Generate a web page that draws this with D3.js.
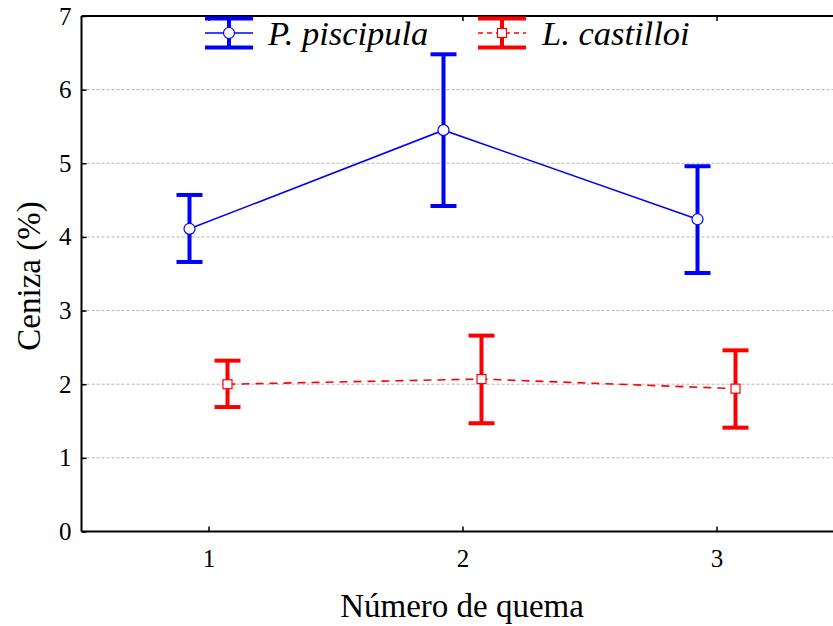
<!DOCTYPE html>
<html>
<head>
<meta charset="utf-8">
<script src="https://cdn.jsdelivr.net/npm/d3@7"></script>
<style>
  html, body { margin: 0; padding: 0; background: #fff; }
  svg { display: block; }
</style>
</head>
<body>
<svg id="chart" width="833" height="626"></svg>
<script>
// Burn number (Número de quema)
const burns = [1, 2, 3];
const yTicks = [0, 1, 2, 3, 4, 5, 6, 7];

// Ash content (%) per species: mean with lower / upper error limits
const piscipulaMean  = [4.11, 5.45, 4.24];
const piscipulaLower = [3.66, 4.42, 3.51];
const piscipulaUpper = [4.57, 6.48, 4.96];

const castilloiMean  = [2.00, 2.07, 1.94];
const castilloiLower = [1.69, 1.47, 1.41];
const castilloiUpper = [2.32, 2.66, 2.46];

const series = [
  { name: "P. piscipula", color: "#0000ff", dash: null, marker: "circle", offset: -19,
    mean: piscipulaMean, lower: piscipulaLower, upper: piscipulaUpper },
  { name: "L. castilloi", color: "#ff0000", dash: "8,6", marker: "square", offset: 19,
    mean: castilloiMean, lower: castilloiLower, upper: castilloiUpper }
];

const serif = "'Liberation Serif'";
const svg = d3.select("#chart").style("font-family", serif);
const plotLeft = 81.5, plotTop = 16, plotBottom = 531.5;

const x = d3.scaleLinear().domain([0.5, 3.5]).range([plotLeft, plotLeft + 762]);
const y = d3.scaleLinear().domain([0, 7]).range([plotBottom, plotTop]);

// horizontal grid
svg.append("g")
  .selectAll("line")
  .data(yTicks.filter(d => d > 0 && d < 7))
  .join("line")
  .attr("x1", plotLeft).attr("x2", 833)
  .attr("y1", d => y(d)).attr("y2", d => y(d))
  .attr("stroke", "#b4b4b4").attr("stroke-width", 1)
  .attr("stroke-dasharray", "3,2");

// axes (ticks point into the plot)
const yAxis = svg.append("g")
  .attr("transform", `translate(${plotLeft},0)`)
  .call(d3.axisLeft(y).tickValues(yTicks).tickSize(-5).tickPadding(10).tickFormat(d3.format("d")));
const xAxis = svg.append("g")
  .attr("transform", `translate(0,${plotBottom})`)
  .call(d3.axisBottom(x).tickValues(burns).tickSize(-5).tickPadding(18).tickFormat(d3.format("d")));
const xTop = svg.append("g")
  .attr("transform", `translate(0,${plotTop})`)
  .call(d3.axisTop(x).tickValues(burns).tickSize(-5).tickFormat(""));

[yAxis, xAxis, xTop].forEach(g => {
  g.attr("font-family", null).attr("font-size", null);
  g.select(".domain").attr("stroke", "#000").attr("stroke-width", 2);
  g.selectAll(".tick line").attr("stroke", "#000").attr("stroke-width", 1.5);
  g.selectAll(".tick text").attr("fill", "#000").attr("font-size", 25);
});
// plain frame lines without outer tick stubs
yAxis.select(".domain").attr("d", `M0,${plotTop}V${plotBottom}`);
xAxis.select(".domain").attr("d", `M${plotLeft},0H833`);
xTop.select(".domain").attr("d", `M${plotLeft},0H833`);

// axis titles
svg.append("text")
  .attr("x", 462).attr("y", 617)
  .attr("text-anchor", "middle").attr("font-size", 33)
  .text("Número de quema");
svg.append("text")
  .attr("transform", `translate(40,276) rotate(-90)`)
  .attr("text-anchor", "middle").attr("font-size", 33)
  .text("Ceniza (%)");

const capHalf = 13;

function drawMarker(g, s, cx, cy) {
  if (s.marker === "circle") {
    g.append("circle").attr("cx", cx).attr("cy", cy).attr("r", 5.5)
      .attr("fill", "#fff").attr("stroke", s.color).attr("stroke-width", 1.2);
  } else {
    g.append("rect").attr("x", cx - 4.5).attr("y", cy - 4.5)
      .attr("width", 9).attr("height", 9)
      .attr("fill", "#fff").attr("stroke", s.color).attr("stroke-width", 1.2);
  }
}

series.forEach(s => {
  const g = svg.append("g");
  const px = i => x(burns[i]) + s.offset;

  const line = d3.line().x((d, i) => px(i)).y(d => y(d));
  g.append("path").datum(s.mean)
    .attr("d", line).attr("fill", "none")
    .attr("stroke", s.color).attr("stroke-width", 1.6)
    .attr("stroke-dasharray", s.dash);

  burns.forEach((b, i) => {
    const cx = px(i);
    g.append("line").attr("x1", cx).attr("x2", cx)
      .attr("y1", y(s.lower[i])).attr("y2", y(s.upper[i]))
      .attr("stroke", s.color).attr("stroke-width", 4);
    [s.lower[i], s.upper[i]].forEach(v => {
      g.append("line").attr("x1", cx - capHalf).attr("x2", cx + capHalf)
        .attr("y1", y(v)).attr("y2", y(v))
        .attr("stroke", s.color).attr("stroke-width", 4);
    });
    drawMarker(g, s, cx, y(s.mean[i]));
  });
});

// legend
const legendItems = [
  { s: series[0], cx: 229, tx: 268 },
  { s: series[1], cx: 502, tx: 542 }
];
legendItems.forEach(({ s, cx, tx }) => {
  const g = svg.append("g");
  const cy = 33;
  g.append("line").attr("x1", cx - 24).attr("x2", cx + 24)
    .attr("y1", cy).attr("y2", cy)
    .attr("stroke", s.color).attr("stroke-width", 1.6)
    .attr("stroke-dasharray", s.dash ? "5,4" : null);
  g.append("line").attr("x1", cx).attr("x2", cx)
    .attr("y1", cy - 14).attr("y2", cy + 14)
    .attr("stroke", s.color).attr("stroke-width", 4);
  [cy - 14.5, cy + 14.5].forEach(v => {
    g.append("line").attr("x1", cx - 24).attr("x2", cx + 24)
      .attr("y1", v).attr("y2", v)
      .attr("stroke", s.color).attr("stroke-width", 4);
  });
  drawMarker(g, s, cx, cy);
  g.append("text").attr("x", tx).attr("y", 45)
    .attr("font-size", 34.5).attr("font-style", "italic")
    .text(s.name);
});

// every label in the serif face
svg.selectAll("text").attr("font-family", serif).style("font-family", serif);
</script>
</body>
</html>
